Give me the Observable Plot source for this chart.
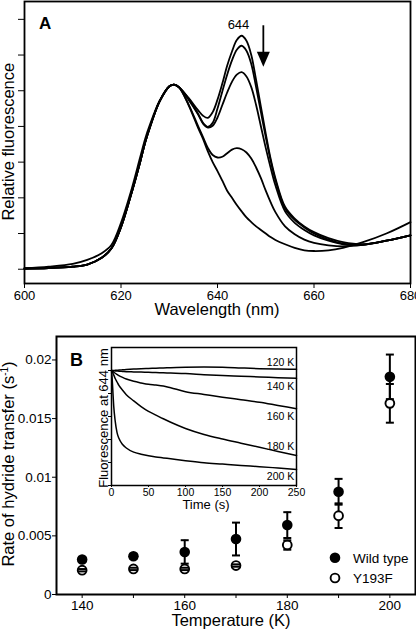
<!DOCTYPE html>
<html><head><meta charset="utf-8">
<script src="https://cdn.jsdelivr.net/npm/d3@7"></script>
<script src="https://cdn.jsdelivr.net/npm/@observablehq/plot@0.6"></script>
<style>
body{margin:0;background:#fff;}
#wrap{position:relative;width:416px;height:631px;font-family:"Liberation Sans",Arial,sans-serif;overflow:hidden;}
#wrap svg{position:absolute;}
</style></head><body><div id="wrap"></div>
<script>
// ---------- Panel A: emission spectra ----------
const wavelengths = [600,605,610,613,616,618,620,622,624,625,626,628,630,631,632,634,636,637,638,639,640,641,642,643,644,645,646,647,648,649,650,651,652,654,656,658,660,663,666,670,675,680];
const spectrum1 = [0.02,0.03,0.07,0.13,0.32,0.58,1.18,2.05,3.02,3.55,3.98,4.7,5.12,5.17,5.1, 4.8,4.45,4.3,4.24,4.4,4.75,5.2,5.7,6.1,6.42,6.54,6.4,6.0,5.3,4.55,3.8,3.1,2.55,1.75,1.42,1.2,1.04,0.87,0.76,0.7,0.8,0.95];
const spectrum2 = [0.02,0.03,0.07,0.13,0.32,0.58,1.18,2.05,3.02,3.55,3.98,4.7,5.12,5.17,5.1, 4.78,4.35,4.1,3.99,4.1,4.5,4.98,5.45,5.85,6.15,6.26,6.12,5.75,5.1,4.4,3.7,3.05,2.5,1.7,1.38,1.17,1.0,0.83,0.72,0.69,0.8,0.95];
const spectrum3 = [0.02,0.03,0.07,0.13,0.32,0.58,1.18,2.05,3.02,3.55,3.98,4.7,5.12,5.17,5.1, 4.75,4.33,4.08,3.97,4.02,4.25,4.6,4.95,5.25,5.45,5.52,5.4,5.1,4.6,4.0,3.4,2.85,2.35,1.62,1.3,1.1,0.95,0.8,0.7,0.68,0.8,0.95];
const spectrum4 = [0.02,0.03,0.07,0.13,0.32,0.58,1.18,2.05,3.02,3.55,3.98,4.7,5.12,5.17,5.1, 4.62,4.0,3.7,3.4,3.2,3.13,3.15,3.25,3.35,3.39,3.36,3.27,3.1,2.85,2.55,2.2,1.88,1.6,1.2,0.98,0.83,0.74,0.67,0.64,0.68,0.8,0.95];
const spectrum5 = [0.02,0.07,0.15,0.26,0.45,0.68,1.3,2.15,3.15,3.65,4.05,4.72,5.13,5.17,5.1, 4.6,3.95,3.65,3.3,3.0,2.75,2.48,2.2,2.0,1.8,1.62,1.45,1.32,1.2,1.1,1.0,0.9,0.82,0.7,0.6,0.53,0.51,0.53,0.6,0.75,1.0,1.32];
const spectrumTicksX = [600,620,640,660,680];
const spectrumTicksY = [0,1,2,3,4,5,6,7];
const peakLabel = [{wl: 644.35, v: 6.85, text: "644"}];
const arrowMark = [{wl: 649.5, top: 6.82, tip: 5.67}];

// ---------- Panel B: rates ----------
const temperatures = [140,150,160,170,180,190,200];
const wildType     = [0.00298,0.00326,0.00363,0.00473,0.00592,0.00876,0.01856];
const wildTypeErr  = [0.0002,0.0002,0.001,0.0014,0.0011,0.0011,0.0019];
const y193f        = [0.00207,0.00218,0.00218,0.00247,0.00422,0.00672,0.0163];
const y193fErr     = [0.0001,0.0001,0.0001,0.0001,0.0004,0.00105,0.00165];
const rateTicksY = [0,0.005,0.01,0.015,0.02];

// ---------- Inset: fluorescence traces ----------
const times   = [0,1,2,3,5,7.5,10,15,20,30,40,50,60,70,80,100,125,150,175,200,225,250];
const trace120 = [1.0,1.0,1.0,1.0,1.001,1.001,1.002,1.003,1.004,1.006,1.008,1.009,1.01,1.011,1.012,1.014,1.015,1.014,1.011,1.008,1.006,1.005];
const trace140 = [1.0,1.0,0.999,0.999,0.998,0.998,0.997,0.996,0.995,0.994,0.993,0.992,0.991,0.99,0.989,0.987,0.982,0.978,0.975,0.972,0.969,0.966];
const trace160 = [1.0,0.998,0.995,0.993,0.988,0.983,0.978,0.97,0.963,0.953,0.946,0.94,0.937,0.933,0.925,0.908,0.896,0.884,0.873,0.862,0.848,0.834];
const trace180 = [1.0,0.995,0.988,0.981,0.965,0.95,0.935,0.914,0.895,0.868,0.843,0.822,0.806,0.79,0.775,0.748,0.722,0.702,0.684,0.666,0.648,0.63];
const trace200 = [1.0,0.96,0.9,0.845,0.78,0.73,0.705,0.678,0.663,0.645,0.636,0.629,0.624,0.62,0.616,0.608,0.599,0.593,0.587,0.582,0.576,0.57];
const traceNames = ["120 K","140 K","160 K","180 K","200 K"];
const traceLabelY = [1.036,0.932,0.801,0.670,0.539];
const insetTicksX = [0,50,100,150,200,250];
const insetTicksY = [0.5,0.6,0.7,0.8,0.9,1.0];

const FONT = '"Liberation Sans", Arial, sans-serif';
const wrap = document.getElementById("wrap");
function place(svg, left, top, tickFont) {
  svg.style.position = "absolute";
  svg.style.left = left + "px";
  svg.style.top = top + "px";
  svg.setAttribute("font-family", FONT);
  svg.setAttribute("font-size", tickFont);
  svg.style.fontSize = tickFont + "px";
  wrap.appendChild(svg);
  const s = d3.select(svg);
  s.selectAll("text").filter(function () { return !this.closest('g[aria-label="text"]'); })
    .attr("font-size", tickFont).style("font-size", tickFont + "px");
  return s;
}

// ===== Panel A =====
const spectra = [spectrum1,spectrum2,spectrum3,spectrum4,spectrum5];
const specRows = spectra.flatMap((s, k) => wavelengths.map((wl, i) => ({wl, v: s[i], s: k})));
const headSymbol = {draw(ctx){ ctx.moveTo(0,0); ctx.lineTo(-6.5,-15); ctx.lineTo(6.5,-15); ctx.closePath(); }};

const plotA = Plot.plot({
  width: 416, height: 320,
  marginLeft: 24, marginRight: 6, marginTop: 1, marginBottom: 37,
  style: "background:transparent;overflow:visible;color:black;font-size:13px;font-family:" + FONT,
  x: {domain: [600, 680]},
  y: {domain: [-0.4, 7.5]},
  marks: [
    Plot.axisX({ticks: spectrumTicksX, tickSize: 5, tickPadding: 2, fontSize: 13, label: null}),
    Plot.axisY({ticks: spectrumTicksY, tickFormat: () => "", tickSize: 6, label: null}),
    Plot.frame({strokeWidth: 1.8}),
    Plot.line(specRows, {x: "wl", y: "v", z: "s", curve: "catmull-rom", strokeWidth: 1.8, stroke: "black"}),
    Plot.text(peakLabel, {x: "wl", y: "v", text: "text", fontSize: 13}),
    Plot.ruleX(arrowMark, {x: "wl", y1: "top", y2: d => d.tip + 0.35, strokeWidth: 1.8}),
    Plot.dot(arrowMark, {x: "wl", y: "tip", symbol: headSymbol, r: 5, fill: "black", stroke: "none"})
  ]
});
{
  const s = place(plotA, 0, 0, 13);
  s.append("text").attr("x", 39).attr("y", 29).attr("text-anchor", "start").attr("font-size", 17).attr("font-weight", "bold").text("A");
  s.append("text").attr("transform", "translate(14,141.7) rotate(-90)").attr("text-anchor", "middle").attr("font-size", 16.5).text("Relative fluorescence");
  s.append("text").attr("x", 217).attr("y", 315).attr("text-anchor", "middle").attr("font-size", 16.5).text("Wavelength (nm)");
}

// ===== Panel B =====
const rows = temperatures.map((t, i) => ({t, wt: wildType[i], wtE: wildTypeErr[i], mu: y193f[i], muE: y193fErr[i]}));
const capSymbol = {draw(ctx, size){ const r = Math.sqrt(size / Math.PI); ctx.moveTo(-r, 0); ctx.lineTo(r, 0); }};

const plotB = Plot.plot({
  width: 416, height: 311,
  marginLeft: 56, marginRight: 1, marginTop: 16, marginBottom: 37,
  style: "background:transparent;overflow:visible;color:black;font-size:13.5px;font-family:" + FONT,
  x: {domain: [135, 205]},
  y: {domain: [0, 0.022]},
  marks: [
    Plot.axisX({ticks: temperatures, tickFormat: d => d % 20 === 0 ? String(d) : "", tickSize: 4, tickPadding: 2, fontSize: 13.5, label: null}),
    Plot.axisY({ticks: rateTicksY, tickFormat: d3.format("~g"), tickSize: 4, tickPadding: 1, fontSize: 13.5, label: null}),
    Plot.frame({strokeWidth: 2}),
    Plot.ruleX(rows, {x: "t", y1: d => d.wt - d.wtE, y2: d => d.wt + d.wtE, strokeWidth: 2}),
    Plot.dot(rows, {x: "t", y: d => d.wt - d.wtE, symbol: capSymbol, r: 4, stroke: "black", strokeWidth: 2}),
    Plot.dot(rows, {x: "t", y: d => d.wt + d.wtE, symbol: capSymbol, r: 4, stroke: "black", strokeWidth: 2}),
    Plot.dot(rows, {x: "t", y: "wt", r: 5.3, fill: "black", stroke: "none"}),
    Plot.ruleX(rows, {x: "t", y1: d => d.mu - d.muE, y2: d => d.mu + d.muE, strokeWidth: 2}),
    Plot.dot(rows, {x: "t", y: "mu", r: 4.4, fill: "white", stroke: "black", strokeWidth: 1.9}),
    Plot.dot(rows, {x: "t", y: d => d.mu - d.muE, symbol: capSymbol, r: 4, stroke: "black", strokeWidth: 2}),
    Plot.dot(rows, {x: "t", y: d => d.mu + d.muE, symbol: capSymbol, r: 4, stroke: "black", strokeWidth: 2})
  ]
});
{
  const s = place(plotB, 0, 320, 13.5);
  s.append("text").attr("x", 70).attr("y", 45.5).attr("text-anchor", "start").attr("font-size", 18).attr("font-weight", "bold").text("B");
  const yl = s.append("text").attr("transform", "translate(14,144) rotate(-90)").attr("text-anchor", "middle").attr("font-size", 16.5);
  yl.append("tspan").text("Rate of hydride transfer (s");
  yl.append("tspan").attr("font-size", 10).attr("dy", -6).text("-1");
  yl.append("tspan").attr("dy", 6).text(")");
  s.append("text").attr("x", 231).attr("y", 306).attr("text-anchor", "middle").attr("font-size", 16.5).text("Temperature (K)");
  // legend
  s.append("circle").attr("cx", 335).attr("cy", 237.7).attr("r", 5.3).attr("fill", "black");
  s.append("circle").attr("cx", 335).attr("cy", 258).attr("r", 4.4).attr("fill", "white").attr("stroke", "black").attr("stroke-width", 1.9);
  s.append("text").attr("x", 353).attr("y", 242.5).attr("text-anchor", "start").attr("font-size", 13.5).text("Wild type");
  s.append("text").attr("x", 353).attr("y", 262.8).attr("text-anchor", "start").attr("font-size", 13.5).text("Y193F");
}

// ===== Inset =====
const traces = [trace120, trace140, trace160, trace180, trace200];
const traceRows = traces.flatMap((tr, k) => times.map((t, i) => ({t, v: tr[i], k})));
const labelRows = traceNames.map((name, i) => ({name, v: traceLabelY[i], t: 247}));

const plotC = Plot.plot({
  width: 212, height: 174,
  marginLeft: 21, marginRight: 6, marginTop: 9, marginBottom: 27,
  style: "background:transparent;overflow:visible;color:black;font-size:10.5px;font-family:" + FONT,
  x: {domain: [0, 250]},
  y: {domain: [0.5, 1.1]},
  marks: [
    Plot.axisX({ticks: insetTicksX, tickSize: 2, tickPadding: 1, fontSize: 10.5, label: null}),
    Plot.axisY({ticks: insetTicksY, tickFormat: () => "", tickSize: 3, label: null}),
    Plot.frame({strokeWidth: 1.5}),
    Plot.line(traceRows, {x: "t", y: "v", z: "k", curve: "monotone-x", strokeWidth: 1.5, stroke: "black"}),
    Plot.text(labelRows, {x: "t", y: "v", text: "name", textAnchor: "end", fontSize: 10.5})
  ]
});
{
  const s = place(plotC, 90, 338, 10.5);
  s.append("text").attr("transform", "translate(18,80) rotate(-90)").attr("text-anchor", "middle").attr("font-size", 13).text("Fluorescence at 644 nm");
  s.append("text").attr("x", 116).attr("y", 171).attr("text-anchor", "middle").attr("font-size", 13).text("Time (s)");
}
</script>
</body></html>
